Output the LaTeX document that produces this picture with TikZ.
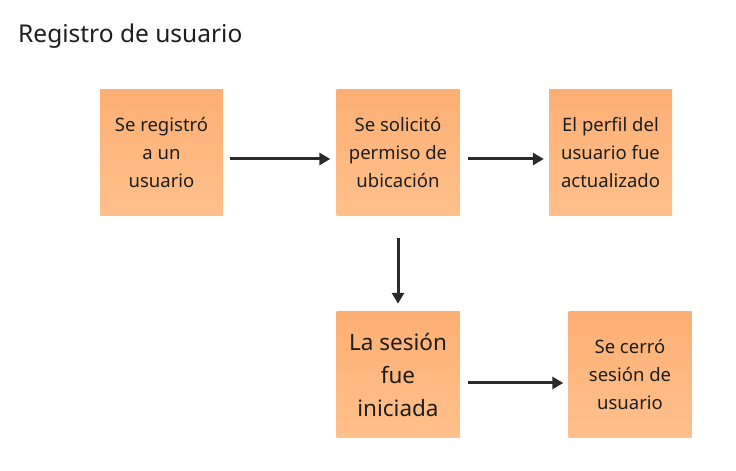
\documentclass[tikz,border=0pt]{standalone}
\usepackage{fontspec}
\setmainfont{Noto Sans}
\usetikzlibrary{arrows.meta,backgrounds}
\definecolor{notetop}{HTML}{FCAF74}
\definecolor{notebot}{HTML}{FFC08B}
\definecolor{arrowc}{HTML}{2A2A2A}
\definecolor{textc}{HTML}{1E1E1E}
\tikzset{
  note/.style={minimum width=123pt, minimum height=126pt, inner sep=0pt,
    top color=notetop, bottom color=notebot, draw=none, align=center,
    text=textc, font=\fontsize{18.5}{28}\selectfont},
  bignote/.style={note, font=\fontsize{22.5}{33}\selectfont},
  conn/.style={draw=arrowc, line width=3pt, -{Triangle[length=11pt,width=12pt]}},
  shadowlayer/.style={fill=black, fill opacity=0.045, draw=none, rounded corners=3pt}
}
\newcommand{\noteshadow}[1]{%
  \foreach \k in {0,1,...,6}{%
    \fill[shadowlayer] ([xshift=2pt+\k pt, yshift=-8pt+\k pt]#1.south west) rectangle ([xshift=-2pt-\k pt, yshift=20pt]#1.south east);
  }}
\begin{document}
\begin{tikzpicture}[x=1pt,y=1pt]
\useasboundingbox[fill=white] (0,0) rectangle (736,471);
\node[anchor=base west, font=\fontsize{24.5}{28}\selectfont, text=textc, inner sep=0pt] (title) at (18,428) {Registro de usuario};
\node[note] (a) at (161.5,318) {Se registró\\a un\\usuario};
\node[note] (b) at (398,318) {Se solicitó\\permiso de\\ubicación};
\node[note] (c) at (610.5,318) {El perfil del\\usuario fue\\actualizado};
\node[bignote] (d) at (398,96) {La sesión\\fue\\iniciada};
\node[note] (e) at (630,96) {Se cerró\\sesión de\\usuario};
\begin{scope}[on background layer]
\noteshadow{a}\noteshadow{b}\noteshadow{c}\noteshadow{d}\noteshadow{e}
\end{scope}
\draw[conn, shorten <=7pt, shorten >=6pt] ([yshift=-6pt]a.east) -- ([yshift=-6pt]b.west);
\draw[conn, shorten <=8pt, shorten >=5pt] ([yshift=-6pt]b.east) -- ([yshift=-6pt]c.west);
\draw[conn, shorten <=22pt, shorten >=8pt] (b) -- (d);
\draw[conn, shorten <=8pt, shorten >=5pt] ([yshift=-8pt]d.east) -- ([yshift=-8pt]e.west);
\end{tikzpicture}
\end{document}
